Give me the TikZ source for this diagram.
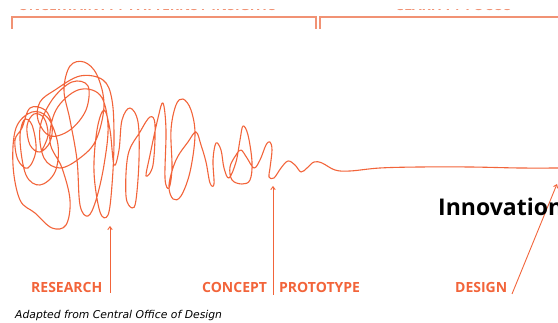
\documentclass[tikz,border=0pt]{standalone}
\usepackage{fontspec}
\usepackage{tikz}
\usetikzlibrary{arrows.meta}
\newfontfamily\labelfont{Open Sans}
\newfontfamily\notefont{DejaVu Sans}
\definecolor{squig}{RGB}{242,100,58}
\definecolor{brace}{RGB}{241,146,116}
\tikzset{
  squiggle/.style={draw=squig,line width=1.1pt,line join=round,line cap=round},
  bracket/.style={draw=brace,line width=1.7pt},
  stagelabel/.style={text=squig,inner sep=0pt,font=\labelfont\bfseries\fontsize{14}{16}\selectfont},
  pointer/.style={draw=squig,line width=0.9pt,-{Straight Barb[length=3pt,width=4.5pt]}},
}

\begin{document}
\begin{tikzpicture}[x=1pt,y=-1pt]
  \useasboundingbox (0,0) rectangle (558,323);
  \begin{scope}
    \clip (0,9.3) rectangle (558,11.8);
    \node[stagelabel,text=brace,anchor=base west] (phaseone) at (18,11) {UNCERTAINTY / PATTERNS / INSIGHTS};
    \node[stagelabel,text=brace,anchor=base west] (phasetwo) at (395,11) {CLARITY / FOCUS};
  \end{scope}
  \draw[bracket] (12,29) -- (12,17) -- (316,17) -- (316,29);
  \draw[bracket] (320,29) -- (320,17) -- (560,17);
  \draw[squiggle] plot[smooth,tension=0.6] coordinates {
    (42,150) (48,135) (44,118) (34,114) (27,126) (30,145) (40,152) (50,142) (52,125) (45,110)
    (30,108) (22,128) (15,140) (18,160) (28,168) (36,150) (32,125) (24,120) (20,140) (26,175)
    (40,185) (55,172) (58,145) (48,118) (32,112) (16,128) (13,165) (20,200) (35,213) (52,228)
    (66,225) (70,200) (62,168) (50,142) (56,110) (78,90) (100,95) (108,125) (104,165) (96,200)
    (88,216) (80,205) (77,160) (70,120) (64,90) (70,66) (84,62) (97,75) (104,105) (96,140)
    (80,158) (60,168) (44,158) (40,128) (52,100) (72,82) (88,86) (86,110) (70,130) (50,136)
    (38,120) (40,102) (55,90) (80,76) (103,80) (112,100) (114,140) (112,185) (108,215) (100,212)
    (94,172) (97,130) (104,110) (110,130) (114,165) (119,150) (122,120) (130,108) (138,122) (139,160)
    (136,200) (132,208) (126,196) (128,155) (140,132) (150,117) (155,125) (153,165) (146,176) (150,155)
    (158,118) (163,103) (166,130) (165,178) (169,188) (172,168) (171,130) (176,105) (183,99) (191,110)
    (195,135) (190,172) (181,196) (173,199) (169,185) (176,160) (188,142) (196,132) (201,145) (206,162)
    (210,183) (214,184) (213,160) (216,143) (221,150) (224,168) (229,178) (236,162) (240,140) (243,126)
    (248,135) (252,162) (250,180) (242,184) (232,180) (230,167) (236,155) (241,150) (247,158) (254,168)
    (260,160) (266,145) (270,142) (272,150) (270,168) (269,177) (274,178) (281,168) (288,161) (295,165)
    (301,172) (307,168) (314,162) (322,163) (335,170) (350,171) (380,168) (420,167) (470,167) (520,168)
    (560,168)};
  \foreach \name/\x/\txt in {research/31/RESEARCH,concept/202/CONCEPT,prototype/279/PROTOTYPE,design/455/DESIGN}
    \node[stagelabel,anchor=base west] (\name) at (\x,293) {\txt};
  \coordinate (researchfoot) at (110,293);
  \coordinate (researchtip) at (110,226);
  \coordinate (conceptfoot) at (273,295);
  \coordinate (concepttip) at (273,186);
  \coordinate (designfoot) at (512,294);
  \coordinate (designtip) at (557,184);
  \draw[pointer] (researchfoot) -- (researchtip);
  \draw[pointer] (conceptfoot) -- (concepttip);
  \draw[pointer] (designfoot) -- (designtip);
  \node[anchor=base west,inner sep=0pt,font=\labelfont\bfseries\fontsize{23}{26}\selectfont] (innovation) at (438,216) {Innovation};
  \node[anchor=base west,inner sep=0pt,font=\notefont\itshape\fontsize{10.8}{12}\selectfont] (source) at (15,318.5) {Adapted from Central Office of Design};
\end{tikzpicture}
\end{document}
